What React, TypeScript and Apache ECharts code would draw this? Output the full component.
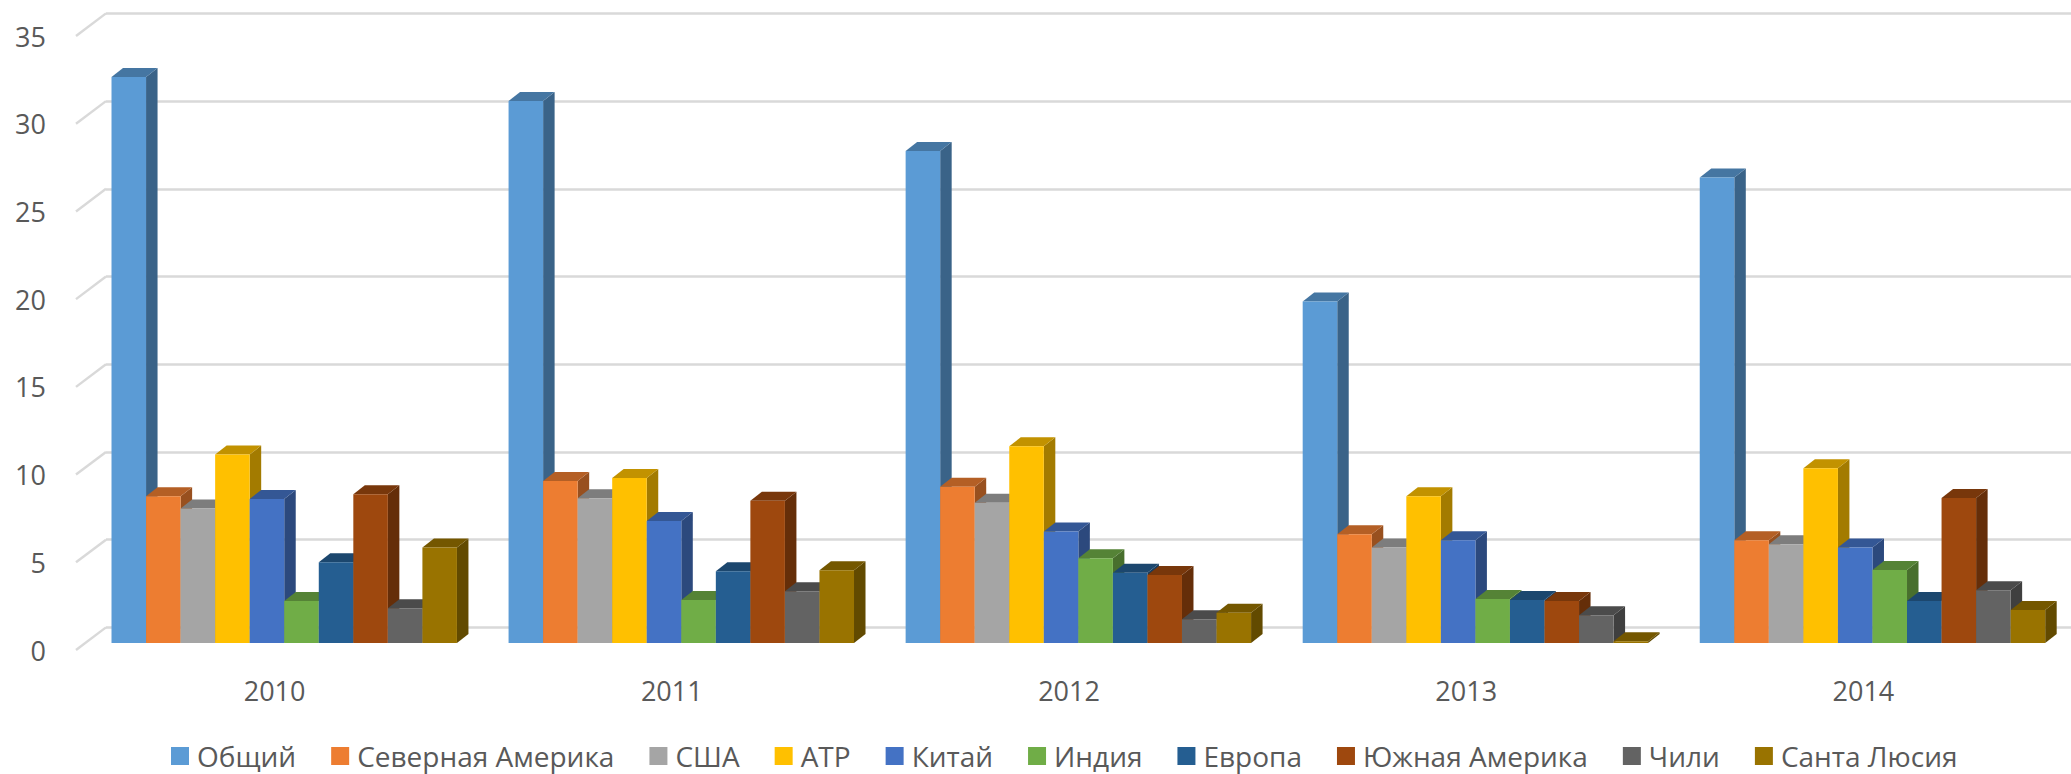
import React, { useEffect, useRef } from "react";
import * as echarts from "echarts";

const years = ["2010", "2011", "2012", "2013", "2014"];
const names = ["Общий", "Северная Америка", "США", "АТР", "Китай", "Индия", "Европа", "Южная Америка", "Чили", "Санта Люсия"];
const colors = ["#5b9bd5", "#ed7d31", "#a5a5a5", "#ffc000", "#4472c4", "#70ad47", "#255e91", "#9e480e", "#636363", "#997300"];

const total = [32.27, 30.9, 28.05, 19.46, 26.53];
const northAmerica = [8.36, 9.24, 8.91, 6.2, 5.85];
const usa = [7.66, 8.25, 8.0, 5.44, 5.63];
const apac = [10.74, 9.41, 11.21, 8.36, 9.96];
const china = [8.21, 6.96, 6.35, 5.85, 5.45];
const india = [2.39, 2.45, 4.83, 2.51, 4.16];
const europe = [4.6, 4.09, 4.01, 2.45, 2.39];
const southAmerica = [8.48, 8.11, 3.88, 2.39, 8.27];
const chile = [1.98, 2.95, 1.35, 1.58, 3.0];
const saintLucia = [5.45, 4.14, 1.73, 0.1, 1.88];
const allSeries = [total, northAmerica, usa, apac, china, india, europe, southAmerica, chile, saintLucia];
const yTicks = [0, 5, 10, 15, 20, 25, 30, 35];

const FONT = "'Open Sans', sans-serif";
const TEXT = "#595959";
const GRID = "#d9d9d9";
const BAND_FILL = 0.87;
const DEPTH_X = 11.5;
const DEPTH_Y = 9;
const WALL_X = 30;
const WALL_Y = 22.6;

function shade(hex: string, k: number) {
  const n = parseInt(hex.slice(1), 16);
  const c = [(n >> 16) & 255, (n >> 8) & 255, n & 255].map((v) => Math.round(v * k));
  return `rgb(${c[0]},${c[1]},${c[2]})`;
}

export default function App() {
  const ref = useRef<HTMLDivElement>(null);
  useEffect(() => {
    const chart = echarts.init(ref.current!, null, { renderer: "svg" });
    const valueAxis = { type: "value", min: 0, max: 35, interval: 5 };
    const hiddenX = { type: "category", data: years, axisLine: { show: false }, axisTick: { show: false }, axisLabel: { show: false } };
    const hiddenY = { ...valueAxis, axisLine: { show: false }, axisTick: { show: false }, axisLabel: { show: false }, splitLine: { show: false } };

    const barSeries = allSeries.map((vals, i) => ({
      type: "custom",
      name: names[i],
      xAxisIndex: 2,
      yAxisIndex: 2,
      z: 5,
      color: colors[i],
      itemStyle: { color: colors[i] },
      encode: { x: 0, y: 1 },
      data: vals.map((v, c) => [c, v]),
      renderItem: (_p: any, api: any) => {
        const top = api.coord([api.value(0), api.value(1)]);
        const base = api.coord([api.value(0), 0]);
        const w = (api.size([1, 0])[0] * BAND_FILL) / allSeries.length;
        const x0 = top[0] - (w * allSeries.length) / 2 + i * w;
        const x1 = x0 + w;
        const yt = top[1];
        const yb = base[1];
        return {
          type: "group",
          children: [
            { type: "polygon", shape: { points: [[x1, yt], [x1 + DEPTH_X, yt - DEPTH_Y], [x1 + DEPTH_X, yb - DEPTH_Y], [x1, yb]] }, style: { fill: shade(colors[i], 0.64) } },
            { type: "polygon", shape: { points: [[x0, yt], [x1, yt], [x1 + DEPTH_X, yt - DEPTH_Y], [x0 + DEPTH_X, yt - DEPTH_Y]] }, style: { fill: shade(colors[i], 0.76) } },
            { type: "rect", shape: { x: x0, y: yt, width: w, height: yb - yt }, style: { fill: colors[i] } },
          ],
        };
      },
    }));

    chart.setOption({
      animation: false,
      backgroundColor: "#ffffff",
      grid: [
        { left: 76, top: 36, width: 1986, height: 614 },
        { left: 106, top: 13.4, width: 1965, height: 614 },
        { left: 85.7, top: 29, width: 1986, height: 614 },
      ],
      xAxis: [
        {
          type: "category",
          gridIndex: 0,
          data: years,
          axisLine: { show: false },
          axisTick: { show: false },
          axisLabel: { color: TEXT, fontFamily: FONT, fontSize: 27, margin: 27 },
        },
        { ...hiddenX, gridIndex: 1 },
        { ...hiddenX, gridIndex: 2 },
      ],
      yAxis: [
        {
          ...valueAxis,
          gridIndex: 0,
          axisLine: { show: false },
          axisTick: { show: false },
          splitLine: { show: false },
          axisLabel: { color: TEXT, fontFamily: FONT, fontSize: 27, margin: 30 },
        },
        {
          ...valueAxis,
          gridIndex: 1,
          axisLine: { show: false },
          axisTick: { show: false },
          axisLabel: { show: false },
          splitLine: { show: true, lineStyle: { color: GRID, width: 2.6 } },
        },
        { ...hiddenY, gridIndex: 2 },
      ],
      legend: {
        data: names,
        left: 171,
        top: 741,
        padding: 0,
        itemWidth: 18,
        itemHeight: 18,
        itemGap: 35,
        icon: "rect",
        textStyle: { color: TEXT, fontFamily: FONT, fontSize: 28, lineHeight: 30, padding: [0, 0, 0, 3] },
        selectedMode: false,
      },
      series: [
        {
          type: "custom",
          xAxisIndex: 0,
          yAxisIndex: 0,
          z: 1,
          encode: { y: 0 },
          data: yTicks.map((t) => [t]),
          renderItem: (p: any, api: any) => {
            const y = api.coord([0, api.value(0)])[1];
            const x = p.coordSys.x;
            return {
              type: "line",
              shape: { x1: x, y1: y, x2: x + WALL_X, y2: y - WALL_Y },
              style: { stroke: GRID, lineWidth: 2.4 },
            };
          },
        },
        ...barSeries,
      ],
    });
    return () => chart.dispose();
  }, []);
  return <div ref={ref} style={{ position: "absolute", left: 0, top: 0, width: 2071, height: 774 }} />;
}
